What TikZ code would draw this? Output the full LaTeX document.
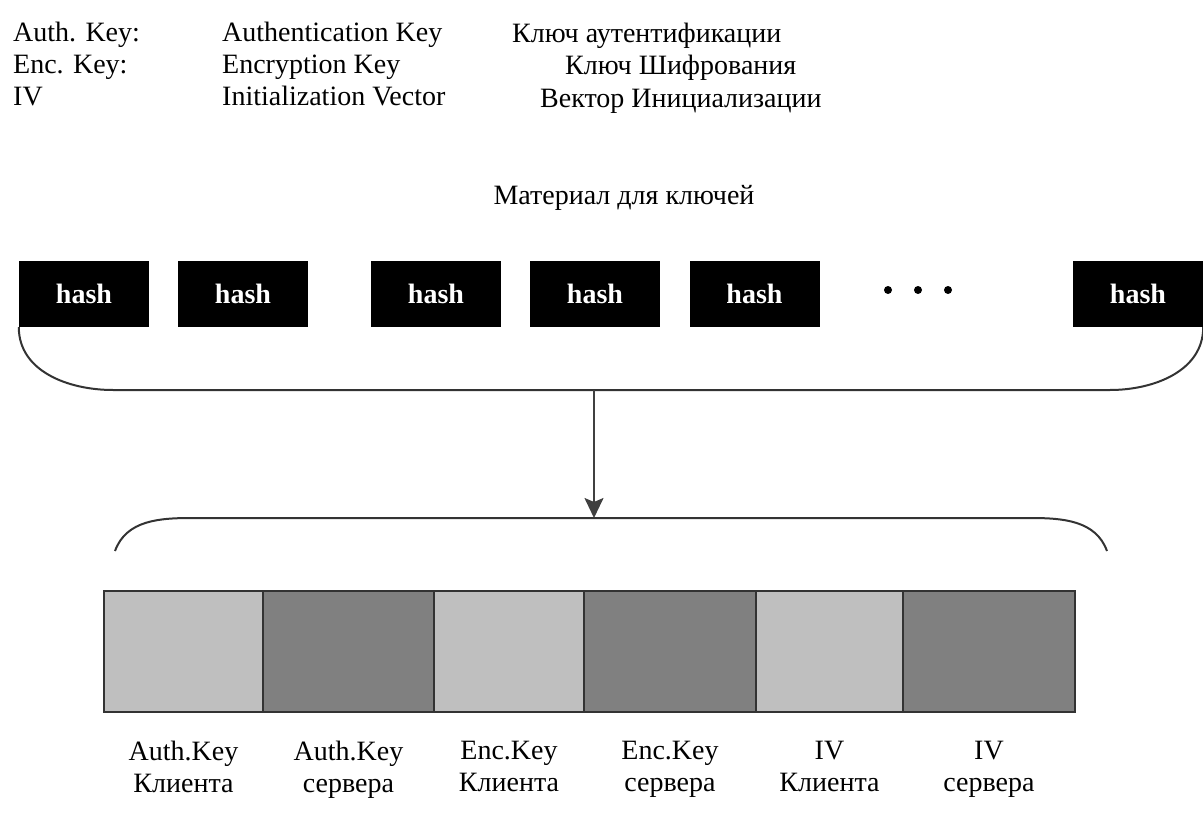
\documentclass[tikz,border=0pt]{standalone}
\usepackage{fontspec}
\setmainfont{Liberation Serif}
\usetikzlibrary{arrows.meta, positioning}

\begin{document}
\begin{tikzpicture}[
    x=1pt, y=-1pt,
    >={Stealth[length=20pt, width=19pt, inset=4pt]},
    legend/.style={anchor=base west, inner sep=0pt, font=\fontsize{28}{32}\selectfont},
    hashbox/.style={rectangle, fill=black, text=white, minimum width=130pt,
                    minimum height=66pt, inner sep=0pt,
                    font=\fontsize{28}{32}\selectfont\bfseries},
    keycell/.style={rectangle, draw=black!80, line width=1.5pt,
                    minimum height=121pt, inner sep=0pt},
    light/.style={keycell, fill=black!25},
    dark/.style={keycell, fill=black!50},
    keylabel/.style={below=28pt of #1, align=center, inner sep=0pt,
                     font=\fontsize{28}{32}\selectfont},
    brace/.style={line width=2pt, black!80}
]
\useasboundingbox (0,0) rectangle (1203,816);

% legend
\node[legend] (lauth) at (13,42) {Auth. Key:};
\node[legend] (lenc) at (13,74) {Enc. Key:};
\node[legend] (liv) at (13,106) {IV};
\node[legend] (eauth) at (222,42) {Authentication Key};
\node[legend] (eenc) at (222,74) {Encryption Key};
\node[legend] (eiv) at (222,106) {Initialization Vector};
\node[legend] (rauth) at (512,43) {Ключ аутентификации};
\node[legend] (renc) at (565,75) {Ключ Шифрования};
\node[legend] (riv) at (540,107) {Вектор Инициализации};

\node[legend, anchor=base] (material) at (624,204) {Материал для ключей};

% hash blocks
\node[hashbox] (h1) at (84,294) {hash};
\node[hashbox] (h2) at (243,294) {hash};
\node[hashbox] (h3) at (436,294) {hash};
\node[hashbox] (h4) at (595,294) {hash};
\node[hashbox] (h5) at (754.5,294) {hash};
\node[hashbox] (h6) at (1138,294) {hash};
\foreach \x in {888,918,948} {
    \fill (\x,290) circle (4pt);
}

% braces and arrow
\coordinate (split) at (594,390);
\coordinate (merge) at (594,518);
\draw[brace] (h1.south west) to[out=-90, in=180] (113,390) -- (1110,390)
    to[out=0, in=-90] (h6.south east);
\draw[->, line width=2pt, black!75] (split) -- (merge);
\draw[brace] (115,551) to[out=70, in=180] (193,518) -- (1030,518)
    to[out=0, in=110] (1107,551);

% key block
\node[light, minimum width=159pt] (c1) at (183.5,651.5) {};
\node[dark, minimum width=171pt] (c2) at (348.5,651.5) {};
\node[light, minimum width=150pt] (c3) at (509,651.5) {};
\node[dark, minimum width=172pt] (c4) at (670,651.5) {};
\node[light, minimum width=147pt] (c5) at (829.5,651.5) {};
\node[dark, minimum width=172pt] (c6) at (989,651.5) {};

\node[keylabel=c1] (k1) {Auth.Key\\Клиента};
\node[keylabel=c2] (k2) {Auth.Key\\сервера};
\node[keylabel=c3] (k3) {Enc.Key\\Клиента};
\node[keylabel=c4] (k4) {Enc.Key\\сервера};
\node[keylabel=c5] (k5) {IV\\Клиента};
\node[keylabel=c6] (k6) {IV\\сервера};
\end{tikzpicture}
\end{document}
